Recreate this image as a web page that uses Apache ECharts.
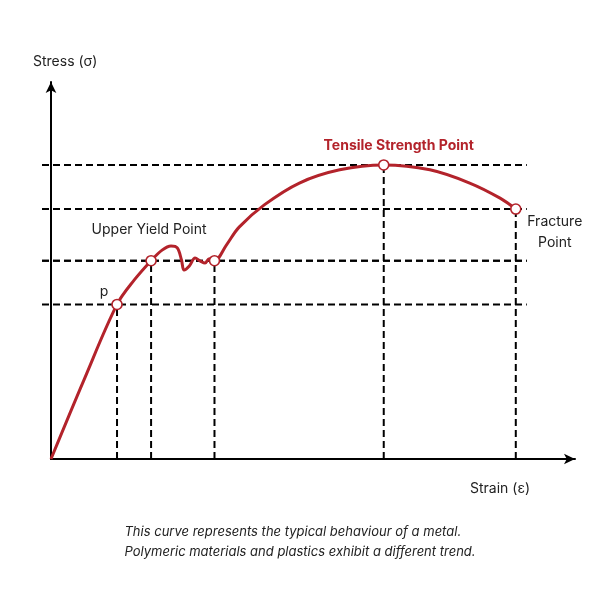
<!DOCTYPE html>
<html>
<head>
<meta charset="utf-8">
<script src="https://cdn.jsdelivr.net/npm/echarts@6/dist/echarts.min.js"></script>
<style>
  html, body { margin: 0; padding: 0; background: #fff; }
  #chart { width: 600px; height: 600px; }
</style>
</head>
<body>
<div id="chart"></div>
<script>
// stress-strain curve of a metal, arbitrary units (0..100 on both axes)
var curveStrain = [0, 6.3, 12.6, 15.9, 19.1, 21.2, 22.9, 24.1, 24.9, 25.4, 26.4, 27.5, 28.5, 29.4, 30.2, 31.2, 33.5, 35.9, 40.7, 47.4, 55.1, 63.5, 72.3, 79.9, 85.7, 88.7];
var curveStress = [0, 21.0, 41.0, 47.5, 52.6, 55.4, 56.5, 56.0, 52.8, 50.1, 51.2, 53.3, 52.5, 52.0, 53.1, 52.6, 56.8, 61.5, 67.4, 73.2, 76.7, 78.0, 76.7, 73.2, 69.2, 66.3];

// marked points: p, upper yield, lower yield end, tensile strength, fracture
var pointNames = ['p', 'Upper Yield Point', '', 'Tensile Strength Point', 'Fracture\nPoint'];
var pointStrain = [12.6, 19.1, 31.2, 63.5, 88.7];
var pointStress = [41.0, 52.6, 52.6, 78.0, 66.3];

var RED = '#b3232b';
var guideStart = -1.7, guideEnd = 90.8;

var chart = echarts.init(document.getElementById('chart'));

var dashed = { color: '#000', width: 2, type: [7, 4] };
var series = [];

// dashed guide lines; horizontals live on grid 0, which starts a bit left of the stress axis
pointStrain.forEach(function (x, i) {
    var y = pointStress[i];
    series.push({
        type: 'line', silent: true, symbol: 'none', z: 1,
        xAxisIndex: 0, yAxisIndex: 0,
        lineStyle: dashed,
        data: [[guideStart, y], [guideEnd, y]]
    });
    series.push({
        type: 'line', silent: true, symbol: 'none', z: 1,
        xAxisIndex: 1, yAxisIndex: 1,
        lineStyle: dashed,
        data: [[x, 0], [x, y]]
    });
});

// the curve
series.push({
    type: 'line', smooth: 0.35, symbol: 'none', z: 3,
    xAxisIndex: 1, yAxisIndex: 1,
    lineStyle: { color: RED, width: 3 },
    data: curveStrain.map(function (x, i) { return [x, curveStress[i]]; })
});

// label offsets from each point (label centred on point, then shifted)
var labelCfg = [
    { offset: [-13, -13], color: '#222', fontWeight: 'normal' },
    { offset: [-2, -31], color: '#222', fontWeight: 'normal' },
    { show: false },
    { offset: [15, -19], color: RED, fontWeight: 'bold' },
    { offset: [39, 23], color: '#222', fontWeight: 'normal' }
];

series.push({
    type: 'scatter', z: 5,
    xAxisIndex: 1, yAxisIndex: 1,
    symbol: 'circle', symbolSize: 10,
    itemStyle: { color: '#fff', borderColor: RED, borderWidth: 1.6, opacity: 1 },
    data: pointStrain.map(function (x, i) {
        var c = labelCfg[i];
        return {
            value: [x, pointStress[i]],
            label: {
                show: c.show !== false,
                formatter: pointNames[i],
                position: 'inside',
                offset: c.offset,
                color: c.color,
                fontWeight: c.fontWeight,
                fontSize: 14,
                lineHeight: 21,
                align: 'center',
                fontFamily: 'Inter'
            }
        };
    })
});

var hidden = { show: false };
var arrowLine = { show: true, onZero: true, symbol: ['none', 'arrow'], symbolSize: [8, 11], lineStyle: { color: '#000', width: 2 } };

chart.setOption({
    animation: false,
    backgroundColor: '#fff',
    textStyle: { fontFamily: 'Inter' },
    grid: [
        { left: 42, right: 25, top: 82, bottom: 141 },
        { left: 51, right: 25, top: 82, bottom: 141 }
    ],
    xAxis: [
        { type: 'value', gridIndex: 0, min: guideStart, max: 100, show: false },
        { type: 'value', gridIndex: 1, min: 0, max: 100,
          axisLine: arrowLine, axisTick: hidden, axisLabel: hidden, splitLine: hidden }
    ],
    yAxis: [
        { type: 'value', gridIndex: 0, min: 0, max: 100, show: false },
        { type: 'value', gridIndex: 1, min: 0, max: 100,
          axisLine: arrowLine, axisTick: hidden, axisLabel: hidden, splitLine: hidden }
    ],
    graphic: [
        { type: 'text', left: 33, top: 55, style: { text: 'Stress (σ)', fontSize: 14, fill: '#222', fontFamily: 'Inter' } },
        { type: 'text', left: 470, top: 482, style: { text: 'Strain (ε)', fontSize: 14, fill: '#222', fontFamily: 'Inter' } },
        { type: 'text', left: 'center', top: 522, style: {
            text: 'This curve represents the typical behaviour of a metal.\nPolymeric materials and plastics exhibit a different trend.',
            fontSize: 13, lineHeight: 20, fontStyle: 'italic', fill: '#222', align: 'center', fontFamily: 'Inter' } }
    ],
    series: series
});
</script>
</body>
</html>
